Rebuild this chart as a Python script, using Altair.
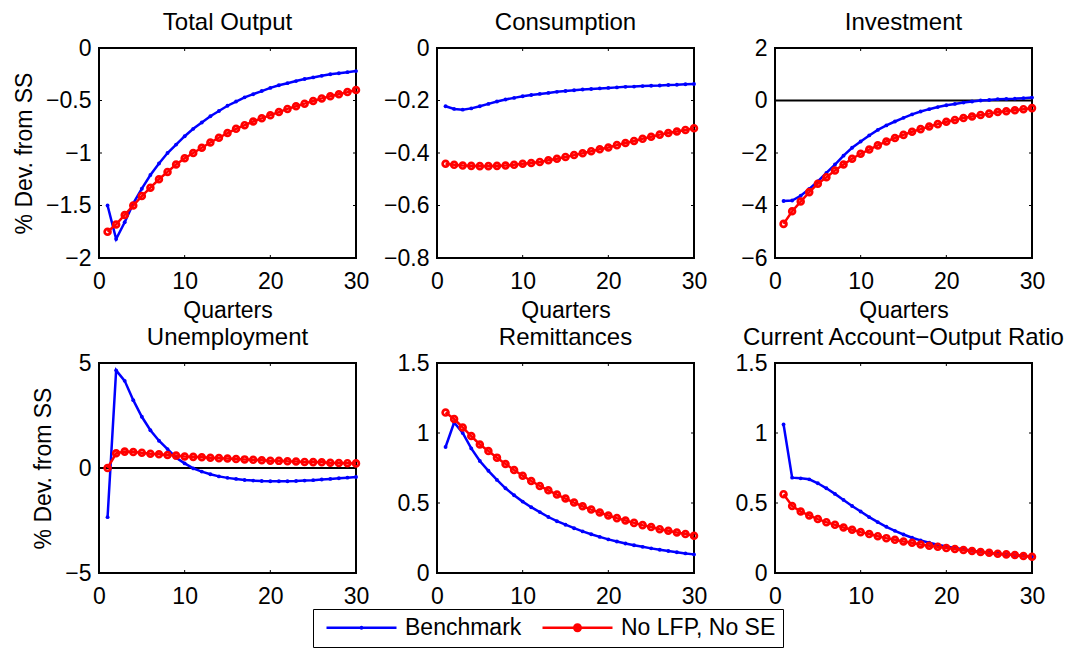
import altair as alt
import pandas as pd

quarters = list(range(1, 31))
series_names = ["Benchmark", "No LFP, No SE"]
panel_titles = ["Total Output", "Consumption", "Investment",
                "Unemployment", "Remittances", "Current Account\u2212Output Ratio"]

bench_output = [-1.50, -1.82, -1.66, -1.48, -1.34, -1.21, -1.10, -1.00, -0.92, -0.84,
                -0.77, -0.71, -0.65, -0.60, -0.55, -0.51, -0.47, -0.44, -0.41, -0.38,
                -0.355, -0.335, -0.315, -0.295, -0.28, -0.265, -0.25, -0.24, -0.23, -0.22]
nolfp_output = [-1.75, -1.68, -1.59, -1.50, -1.41, -1.33, -1.25, -1.18, -1.11, -1.05,
                -1.00, -0.95, -0.90, -0.855, -0.81, -0.77, -0.735, -0.70, -0.67, -0.64,
                -0.61, -0.58, -0.555, -0.53, -0.505, -0.48, -0.46, -0.44, -0.42, -0.40]

bench_cons = [-0.222, -0.232, -0.235, -0.230, -0.222, -0.213, -0.204, -0.196, -0.190, -0.184,
              -0.179, -0.175, -0.171, -0.167, -0.164, -0.161, -0.158, -0.156, -0.154, -0.152,
              -0.150, -0.148, -0.147, -0.145, -0.144, -0.143, -0.141, -0.140, -0.138, -0.137]
nolfp_cons = [-0.441, -0.445, -0.448, -0.449, -0.450, -0.450, -0.449, -0.448, -0.445, -0.441,
              -0.438, -0.434, -0.428, -0.422, -0.415, -0.408, -0.401, -0.393, -0.386, -0.379,
              -0.370, -0.362, -0.354, -0.346, -0.338, -0.330, -0.324, -0.318, -0.312, -0.306]

bench_inv = [-3.83, -3.81, -3.63, -3.37, -3.08, -2.76, -2.44, -2.10, -1.80, -1.56,
             -1.33, -1.12, -0.95, -0.80, -0.66, -0.53, -0.42, -0.33, -0.25, -0.18,
             -0.13, -0.08, -0.04, 0.00, 0.02, 0.05, 0.06, 0.07, 0.09, 0.11]
nolfp_inv = [-4.70, -4.22, -3.85, -3.49, -3.17, -2.92, -2.67, -2.44, -2.22, -2.03,
             -1.87, -1.71, -1.56, -1.43, -1.31, -1.19, -1.09, -0.99, -0.90, -0.81,
             -0.74, -0.67, -0.61, -0.55, -0.50, -0.44, -0.41, -0.37, -0.33, -0.29]

bench_unemp = [-2.34, 4.65, 4.15, 3.23, 2.44, 1.80, 1.30, 0.90, 0.49, 0.22,
               -0.02, -0.17, -0.30, -0.40, -0.47, -0.52, -0.57, -0.60, -0.62, -0.63,
               -0.63, -0.63, -0.62, -0.60, -0.58, -0.55, -0.52, -0.49, -0.46, -0.43]
nolfp_unemp = [0.00, 0.70, 0.78, 0.76, 0.73, 0.68, 0.65, 0.62, 0.59, 0.55,
               0.53, 0.51, 0.49, 0.47, 0.45, 0.43, 0.41, 0.39, 0.37, 0.35,
               0.34, 0.32, 0.31, 0.29, 0.28, 0.27, 0.25, 0.24, 0.23, 0.22]

bench_remit = [0.90, 1.075, 1.00, 0.89, 0.80, 0.73, 0.665, 0.605, 0.555, 0.51,
               0.47, 0.435, 0.40, 0.37, 0.345, 0.32, 0.297, 0.277, 0.258, 0.24,
               0.225, 0.211, 0.198, 0.187, 0.176, 0.166, 0.157, 0.148, 0.14, 0.133]
nolfp_remit = [1.146, 1.10, 1.04, 0.978, 0.918, 0.871, 0.824, 0.779, 0.736, 0.695,
               0.657, 0.622, 0.591, 0.56, 0.532, 0.503, 0.477, 0.453, 0.432, 0.411,
               0.392, 0.375, 0.358, 0.342, 0.328, 0.313, 0.302, 0.29, 0.278, 0.266]

bench_ca = [1.061, 0.681, 0.676, 0.669, 0.641, 0.605, 0.565, 0.522, 0.479, 0.439,
            0.399, 0.363, 0.33, 0.301, 0.275, 0.252, 0.233, 0.216, 0.202, 0.19,
            0.178, 0.169, 0.159, 0.152, 0.145, 0.138, 0.133, 0.128, 0.123, 0.117]
nolfp_ca = [0.563, 0.479, 0.439, 0.411, 0.385, 0.363, 0.344, 0.325, 0.309, 0.292,
            0.278, 0.263, 0.249, 0.237, 0.225, 0.216, 0.204, 0.195, 0.188, 0.178,
            0.171, 0.164, 0.157, 0.15, 0.145, 0.138, 0.133, 0.128, 0.121, 0.116]

bench_all = [bench_output, bench_cons, bench_inv, bench_unemp, bench_remit, bench_ca]
nolfp_all = [nolfp_output, nolfp_cons, nolfp_inv, nolfp_unemp, nolfp_remit, nolfp_ca]
y_domains = [[-2, 0], [-0.8, 0], [-6, 2], [-5, 5], [0, 1.5], [0, 1.5]]
y_ticks = [[-2, -1.5, -1, -0.5, 0], [-0.8, -0.6, -0.4, -0.2, 0], [-6, -4, -2, 0, 2],
           [-5, 0, 5], [0, 0.5, 1, 1.5], [0, 0.5, 1, 1.5]]
x_ticks = [0, 10, 20, 30]
zero_line_panels = [2, 3]

BLUE = "#0000ff"
RED = "#ff0000"
FONT = "Liberation Sans"
W, H = 257, 210
TICK = 3

blue_path = ("M-0.5,-0.125L6.5,-0.125L6.5,0.125L-0.5,0.125Z "
             "M2.8,0A0.2,0.2,0,1,1,3.2,0A0.2,0.2,0,1,1,2.8,0Z")
red_path = ("M-0.5,-0.125L6.5,-0.125L6.5,0.125L-0.5,0.125Z "
            "M2.55,0A0.45,0.45,0,1,1,3.45,0A0.45,0.45,0,1,1,2.55,0Z")


def panel(i):
    xs = alt.Scale(domain=[0, 30], nice=False, zero=False)
    ys = alt.Scale(domain=y_domains[i], nice=False, zero=False)
    x_axis = alt.Axis(values=x_ticks, format="~r", title="Quarters" if i < 3 else "")
    y_axis = alt.Axis(values=y_ticks[i], format="~r", title="% Dev. from SS" if i % 3 == 0 else "")

    def xe(f):
        return alt.X(f + ":Q", scale=xs, axis=x_axis)

    def ye(f):
        return alt.Y(f + ":Q", scale=ys, axis=y_axis)

    df_b = pd.DataFrame({"q": quarters, "v": bench_all[i]})
    df_r = pd.DataFrame({"q": quarters, "v": nolfp_all[i]})

    # axes box (MATLAB "box on")
    layers = [
        alt.Chart(pd.DataFrame({"f": [0]})).mark_rect(filled=False, stroke="black", strokeWidth=2)
        .encode(x=alt.value(0), x2=alt.value(W), y=alt.value(0), y2=alt.value(H)),
    ]
    if i in zero_line_panels:
        layers.append(alt.Chart(pd.DataFrame({"q": [0, 30], "z": [0, 0]}))
                      .mark_line(color="black", strokeWidth=2)
                      .encode(x=xe("q"), y=ye("z")))
    # inward tick marks (MATLAB style) on all four sides
    dx = pd.DataFrame({"t": x_ticks})
    dy = pd.DataFrame({"t": y_ticks[i]})
    layers += [
        alt.Chart(dx).mark_rule(color="black", strokeWidth=1)
        .encode(x=xe("t"), y=alt.value(H), y2=alt.value(H - TICK)),
        alt.Chart(dx).mark_rule(color="black", strokeWidth=1)
        .encode(x=xe("t"), y=alt.value(0), y2=alt.value(TICK)),
        alt.Chart(dy).mark_rule(color="black", strokeWidth=1)
        .encode(y=ye("t"), x=alt.value(0), x2=alt.value(TICK)),
        alt.Chart(dy).mark_rule(color="black", strokeWidth=1)
        .encode(y=ye("t"), x=alt.value(W), x2=alt.value(W - TICK)),
    ]
    layers += [
        alt.Chart(df_b).mark_line(color=BLUE, strokeWidth=2.5).encode(x=xe("q"), y=ye("v")),
        alt.Chart(df_b).mark_point(color=BLUE, filled=True, size=15, opacity=1)
        .encode(x=xe("q"), y=ye("v")),
        alt.Chart(df_r).mark_line(color=RED, strokeWidth=2.5).encode(x=xe("q"), y=ye("v")),
        alt.Chart(df_r).mark_point(color=RED, filled=False, size=34, strokeWidth=2.7, opacity=1)
        .encode(x=xe("q"), y=ye("v")),
    ]
    if i == 0:
        legend = alt.Legend(orient="none", legendX=214, legendY=561, direction="horizontal",
                            title=None, strokeColor="black", fillColor="white", padding=7,
                            labelFontSize=23, labelFont=FONT, labelColor="black",
                            symbolSize=400, labelOffset=62, columnPadding=14,
                            symbolStrokeWidth=0, symbolOpacity=1, labelLimit=400,
                            cornerRadius=0)
        layers.append(
            alt.Chart(pd.DataFrame({"s": series_names})).transform_filter("false")
            .mark_point(filled=True, opacity=1)
            .encode(color=alt.Color("s:N", scale=alt.Scale(domain=series_names, range=[BLUE, RED]),
                                    legend=legend),
                    shape=alt.Shape("s:N", scale=alt.Scale(domain=series_names,
                                                           range=[blue_path, red_path]),
                                    legend=legend))
        )
    return alt.layer(*layers).properties(
        width=W, height=H,
        title=alt.TitleParams(panel_titles[i], anchor="middle", fontSize=24, font=FONT,
                              fontWeight="normal", color="black", offset=2))


chart = alt.concat(*[panel(i) for i in range(6)], columns=3,
                   spacing={"row": 105, "column": 81}, bounds="flush").properties(
    padding={"left": 12, "top": 10, "right": 0, "bottom": 0},
    background="white",
).configure_view(stroke="black", strokeWidth=2).configure_axis(
    domain=False, ticks=False, grid=False, labelFlush=False, labelOverlap=False,
    labelFont=FONT, labelFontSize=23, labelColor="black",
    titleFont=FONT, titleFontSize=23, titleFontWeight="normal", titleColor="black",
).configure_axisX(titlePadding=6, labelPadding=12).configure_axisY(titlePadding=9, labelPadding=8)

chart.save("out.html", embed_options={"renderer": "svg", "actions": False})
